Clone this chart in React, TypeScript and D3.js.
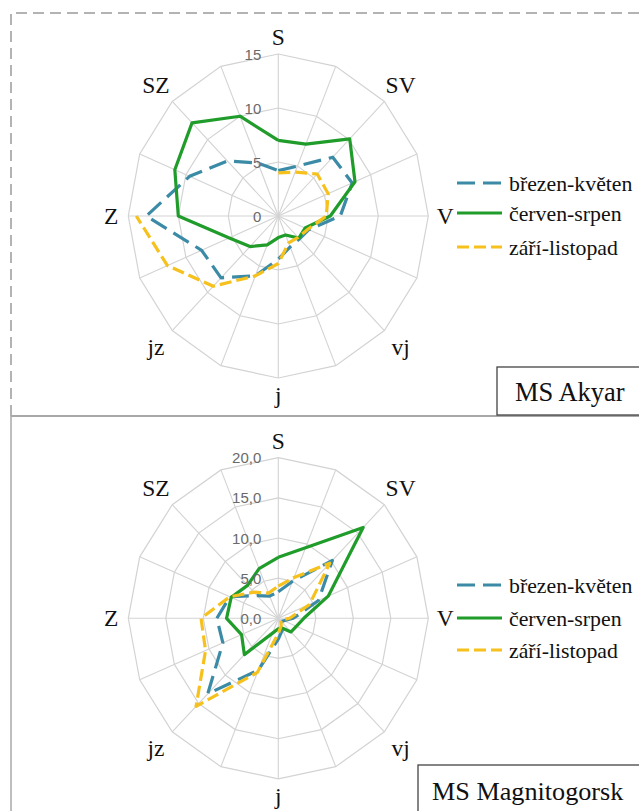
import React from "react";
import * as d3 from "d3";

// 16 wind directions, clockwise from north; only the main ones are labelled
const DIRECTION_LABELS = ["S", "", "SV", "", "V", "", "vj", "", "j", "", "jz", "", "Z", "", "SZ", ""];
const SERIES_NAMES = ["březen-květen", "červen-srpen", "září-listopad"];

// MS Akyar – wind direction frequency (%)
const AKYAR_SPRING = [4.2, 5.0, 7.7, 8.0, 6.2, 3.3, 3.0, 3.1, 4.0, 6.0, 8.1, 8.3, 13.2, 9.6, 7.2, 5.3];
const AKYAR_SUMMER = [7.0, 7.2, 10.1, 8.3, 5.2, 2.9, 2.9, 1.9, 2.0, 2.9, 4.0, 5.3, 10.0, 11.2, 12.2, 10.0];
const AKYAR_AUTUMN: (number | null)[] = [4.0, 4.4, 5.5, 5.4, 4.8, 3.2, 2.8, 2.7, 4.4, 6.0, 9.2, 12.0, 14.2, null, null, null];
const AKYAR_TICKS = [0, 5, 10, 15];

// MS Magnitogorsk – wind direction frequency (%)
const MAG_SPRING = [3.3, 5.0, 10.2, 5.8, 2.0, 0.8, 0.6, 1.5, 2.6, 7.0, 13.3, 8.0, 8.2, 7.0, 4.0, 3.0];
const MAG_SUMMER = [7.6, 9.5, 16.0, 7.2, 3.4, 2.6, 2.4, 1.3, 1.3, 2.0, 6.4, 5.3, 6.9, 6.8, 5.8, 6.7];
const MAG_AUTUMN = [4.0, 5.5, 9.7, 4.5, 1.5, 0.5, 0.5, 1.0, 1.9, 7.3, 15.5, 10.5, 10.3, 7.0, 4.6, 3.4];
const MAG_TICKS = [0, 5, 10, 15, 20];

const SERIES_STYLES = [
  { color: "#3b8ba6", dash: "18 8" },
  { color: "#209c2a", dash: undefined },
  { color: "#f6c11d", dash: "12 5" },
];

const SERIF = "'Liberation Serif', 'Times New Roman', serif";
const SANS = "'Liberation Sans', Arial, sans-serif";

type RadarProps = {
  cx: number;
  cy: number;
  rx: number;
  ry: number;
  max: number;
  ticks: number[];
  tickFormat: (v: number) => string;
  series: (number | null)[][];
};

function Radar({ cx, cy, rx, ry, max, ticks, tickFormat, series }: RadarProps) {
  const n = DIRECTION_LABELS.length;
  const angle = d3.scaleLinear().domain([0, n]).range([0, 2 * Math.PI]);
  const sx = d3.scaleLinear().domain([0, max]).range([0, rx]);
  const sy = d3.scaleLinear().domain([0, max]).range([0, ry]);
  const pt = (i: number, v: number): [number, number] => [
    cx + sx(v) * Math.sin(angle(i)),
    cy - sy(v) * Math.cos(angle(i)),
  ];
  const idx = d3.range(n);
  const ring = (v: number) => d3.line()(idx.map((i) => pt(i, v))) + "Z";

  const seriesLine = d3
    .line<[number, number | null]>()
    .defined((d) => d[1] != null)
    .x((d) => pt(d[0], d[1] as number)[0])
    .y((d) => pt(d[0], d[1] as number)[1]);

  return (
    <g>
      {ticks
        .filter((t) => t > 0)
        .map((t) => (
          <path key={"r" + t} d={ring(t)} fill="none" stroke="#d3d3d3" strokeWidth={1.2} />
        ))}
      {idx.map((i) => {
        const [x, y] = pt(i, max);
        return <line key={"s" + i} x1={cx} y1={cy} x2={x} y2={y} stroke="#d3d3d3" strokeWidth={1.1} />;
      })}
      {series.map((vals, si) => {
        const pts: [number, number | null][] = vals.map((v, i) => [i, v]);
        pts.push([n, vals[0]]);
        const st = SERIES_STYLES[si];
        return (
          <path
            key={"l" + si}
            d={seriesLine(pts) || ""}
            fill="none"
            stroke={st.color}
            strokeWidth={3.2}
            strokeDasharray={st.dash}
            strokeLinejoin="round"
          />
        );
      })}
      {ticks.map((t) => (
        <text
          key={"t" + t}
          x={cx - 17}
          y={cy - sy(t)}
          textAnchor="end"
          dominantBaseline="central"
          fontFamily={SANS}
          fontSize={15}
          fill="#6a6a6a"
        >
          {tickFormat(t)}
        </text>
      ))}
      {idx.map((i) => {
        const label = DIRECTION_LABELS[i];
        if (!label) return null;
        const d = i % 4 === 0 ? 17 : 23;
        const a = angle(i);
        const x = cx + (rx + d) * Math.sin(a);
        const y = cy - (ry + d) * Math.cos(a);
        return (
          <text
            key={"a" + i}
            x={x}
            y={y}
            textAnchor="middle"
            dominantBaseline="central"
            fontFamily={SERIF}
            fontSize={23.5}
            fill="#111"
          >
            {label}
          </text>
        );
      })}
    </g>
  );
}

function Legend({ x, ys }: { x: number; ys: number[] }) {
  return (
    <g>
      {SERIES_NAMES.map((name, i) => (
        <g key={name}>
          <line
            x1={x}
            x2={x + 45}
            y1={ys[i]}
            y2={ys[i]}
            stroke={SERIES_STYLES[i].color}
            strokeWidth={3.2}
            strokeDasharray={SERIES_STYLES[i].dash}
          />
          <text
            x={x + 52}
            y={ys[i] + 1}
            dominantBaseline="central"
            fontFamily={SERIF}
            fontSize={21.8}
            fill="#111"
          >
            {name}
          </text>
        </g>
      ))}
    </g>
  );
}

export default function App() {
  const fmtInt = (v: number) => String(v);
  const fmtDec = (v: number) => v.toFixed(1).replace(".", ",");
  return (
    <svg
      width={639}
      height={811}
      viewBox="0 0 639 811"
      style={{ position: "absolute", left: 0, top: 0, background: "#fff" }}
    >
      <rect x={0} y={0} width={639} height={811} fill="#fff" />
      {/* panel frames */}
      <path d="M11,416 L11,13 L650,13" fill="none" stroke="#9a9a9a" strokeWidth={1.5} strokeDasharray="11 6" />
      <line x1={11} x2={650} y1={416} y2={416} stroke="#a8a8a8" strokeWidth={2} />
      <line x1={11} x2={11} y1={416} y2={811} stroke="#a8a8a8" strokeWidth={1.5} />

      <Radar
        cx={278.3}
        cy={216}
        rx={150}
        ry={162}
        max={15}
        ticks={AKYAR_TICKS}
        tickFormat={fmtInt}
        series={[AKYAR_SPRING, AKYAR_SUMMER, AKYAR_AUTUMN]}
      />
      <Legend x={457} ys={[183, 213, 247]} />
      <rect x={497} y={367} width={160} height={48} fill="#fff" stroke="#444" strokeWidth={1.3} />
      <text x={515} y={401} fontFamily={SERIF} fontSize={26.5} fill="#111">
        MS Akyar
      </text>

      <Radar
        cx={278.3}
        cy={618.3}
        rx={150}
        ry={160.6}
        max={20}
        ticks={MAG_TICKS}
        tickFormat={fmtDec}
        series={[MAG_SPRING, MAG_SUMMER, MAG_AUTUMN]}
      />
      <Legend x={457} ys={[585, 618, 650]} />
      <rect x={418} y={765} width={240} height={60} fill="#fff" stroke="#444" strokeWidth={1.3} />
      <text x={432} y={800} fontFamily={SERIF} fontSize={26.2} fill="#111">
        MS Magnitogorsk
      </text>
    </svg>
  );
}
